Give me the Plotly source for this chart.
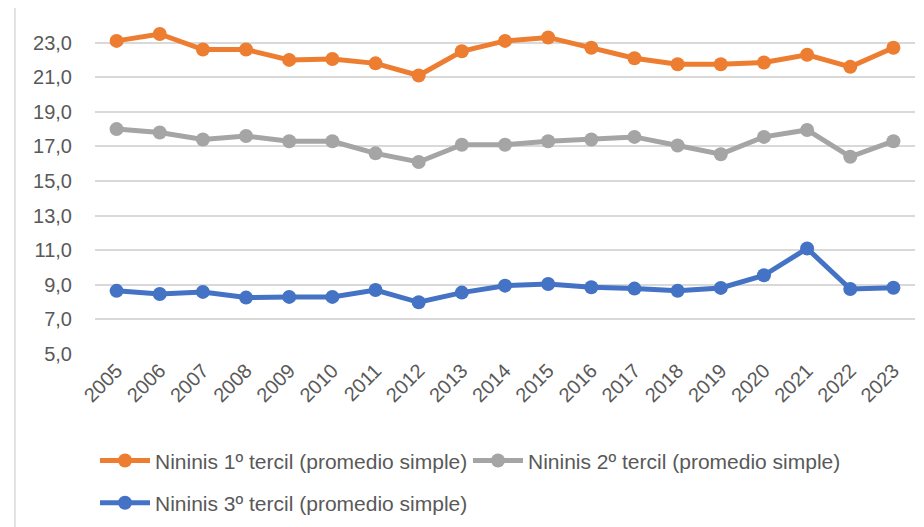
import plotly.graph_objects as go

anios = [str(a) for a in range(2005, 2024)]

tercil_1 = [23.1, 23.5, 22.6, 22.6, 22.0, 22.05, 21.8, 21.1, 22.5, 23.1,
            23.3, 22.7, 22.1, 21.75, 21.75, 21.85, 22.3, 21.6, 22.7]
tercil_2 = [18.0, 17.8, 17.4, 17.6, 17.3, 17.3, 16.6, 16.1, 17.1, 17.1,
            17.3, 17.4, 17.55, 17.05, 16.55, 17.55, 17.95, 16.4, 17.3]
tercil_3 = [8.65, 8.47, 8.59, 8.26, 8.3, 8.3, 8.7, 7.99, 8.55, 8.95,
            9.05, 8.86, 8.78, 8.66, 8.82, 9.55, 11.1, 8.76, 8.83]

nombres = ["Nininis 1º tercil (promedio simple)",
           "Nininis 2º tercil (promedio simple)",
           "Nininis 3º tercil (promedio simple)"]
colores = ["#ED7D31", "#A5A5A5", "#4472C4"]

FUENTE = "Liberation Sans, Arial, sans-serif"
GRIS_TXT = "#595959"

fig = go.Figure()
for serie, nombre, color, ley in zip([tercil_1, tercil_2, tercil_3], nombres, colores,
                                     ["legend", "legend", "legend2"]):
    fig.add_trace(go.Scatter(
        x=anios, y=serie, name=nombre, mode="lines+markers",
        line=dict(color=color, width=5),
        marker=dict(color=color, size=14),
        legend=ley,
    ))

# la página añade 8 px de margen, así que la figura es 8 px más pequeña
fig.update_layout(
    width=916, height=519,
    margin=dict(l=87, r=9, t=0, b=173),
    paper_bgcolor="white", plot_bgcolor="white",
    separators=",.",
    font=dict(family=FUENTE, color=GRIS_TXT, size=20),
    xaxis=dict(
        type="category", range=[-0.5, 18.5], tickangle=-45,
        showgrid=False, showline=False, ticks="", automargin=False,
        tickfont=dict(size=20, color=GRIS_TXT),
    ),
    yaxis=dict(
        range=[5, 25.001], tick0=5, dtick=2, tickformat=".1f",
        showgrid=True, gridcolor="#D9D9D9", gridwidth=1.5,
        zeroline=False, showline=False, ticks="", automargin=False,
        ticklabelstandoff=22,
        tickfont=dict(size=20, color=GRIS_TXT),
    ),
    legend=dict(
        orientation="h", x=0.0, xanchor="left", y=-0.309, yanchor="middle",
        font=dict(size=21, color=GRIS_TXT), itemwidth=50, entrywidth=308,
        bgcolor="rgba(0,0,0,0)",
    ),
    legend2=dict(
        orientation="h", x=0.0, xanchor="left", y=-0.431, yanchor="middle",
        font=dict(size=21, color=GRIS_TXT), itemwidth=50,
        bgcolor="rgba(0,0,0,0)",
    ),
    showlegend=True,
)

# borde izquierdo del área del gráfico
fig.add_shape(type="line", xref="paper", yref="paper",
              x0=-0.0976, x1=-0.0976, y0=-0.6, y1=1.1,
              line=dict(color="#D9D9D9", width=1.5))

fig.write_html("out.html")
